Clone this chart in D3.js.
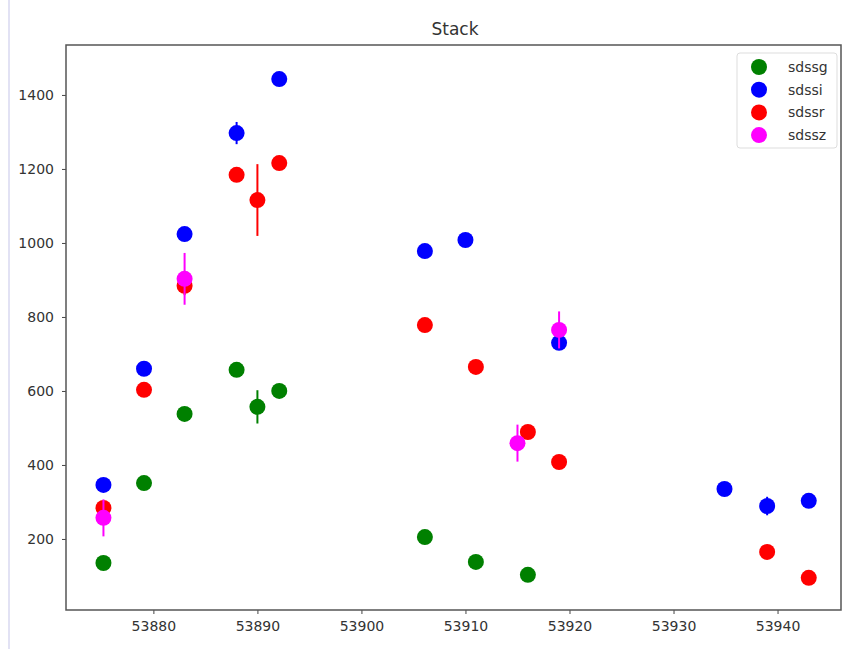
<!DOCTYPE html>
<html>
<head>
<meta charset="utf-8">
<script src="https://cdn.jsdelivr.net/npm/d3@7"></script>
<style>
html,body{margin:0;padding:0;background:#fff;}
svg{display:block;font-family:"DejaVu Sans",sans-serif;}
</style>
</head>
<body>
<svg id="chart" width="854" height="649"></svg>
<script>
const seriesNames = ["sdssg","sdssi","sdssr","sdssz"];
const seriesColors = ["#008000","#0000ff","#ff0000","#ff00ff"];

const sdssgMjd  = [53875.2, 53879.1, 53883.0, 53888.0, 53890.0, 53892.1, 53906.1, 53911.0, 53916.0];
const sdssgFlux = [135, 351, 538, 657, 557, 600, 205, 138, 103];
const sdssgErr  = [5, 5, 5, 5, 45, 5, 5, 5, 5];

const sdssiMjd  = [53875.2, 53879.1, 53883.0, 53888.0, 53892.1, 53906.1, 53910.0, 53919.0, 53934.9, 53939.0, 53943.0];
const sdssiFlux = [346, 660, 1024, 1297, 1443, 978, 1008, 730, 335, 289, 303];
const sdssiErr  = [15, 18, 5, 30, 5, 5, 15, 5, 5, 25, 5];

const sdssrMjd  = [53875.2, 53879.1, 53883.0, 53888.0, 53890.0, 53892.1, 53906.1, 53911.0, 53916.0, 53919.0, 53939.0, 53943.0];
const sdssrFlux = [284, 603, 884, 1184, 1116, 1216, 778, 665, 489, 408, 165, 95];
const sdssrErr  = [10, 5, 25, 5, 97, 5, 5, 5, 5, 5, 5, 5];

const sdsszMjd  = [53875.2, 53883.0, 53915.0, 53919.0];
const sdsszFlux = [257, 903, 459, 765];
const sdsszErr  = [50, 70, 50, 50];

const xTicks = [53880, 53890, 53900, 53910, 53920, 53930, 53940];
const yTicks = [200, 400, 600, 800, 1000, 1200, 1400];
const titleText = "Stack";

const series = [
  {name: seriesNames[0], color: seriesColors[0], x: sdssgMjd, y: sdssgFlux, e: sdssgErr},
  {name: seriesNames[1], color: seriesColors[1], x: sdssiMjd, y: sdssiFlux, e: sdssiErr},
  {name: seriesNames[2], color: seriesColors[2], x: sdssrMjd, y: sdssrFlux, e: sdssrErr},
  {name: seriesNames[3], color: seriesColors[3], x: sdsszMjd, y: sdsszFlux, e: sdsszErr}
];

const svg = d3.select("#chart");
const L = 66, R = 841, T = 45, B = 610;

// faint page border line at left
svg.append("line").attr("x1",9).attr("x2",9).attr("y1",0).attr("y2",649)
  .attr("stroke","#e2e2f4").attr("stroke-width",2);

const x = d3.scaleLinear().domain([53871.6, 53946.1]).range([L, R]);
const y = d3.scaleLinear().domain([8, 1535]).range([B, T]);

const xAxis = svg.append("g").attr("transform", `translate(0,${B})`)
  .call(d3.axisBottom(x).tickValues(xTicks).tickFormat(d3.format("d")).tickSize(4).tickPadding(7));
const yAxis = svg.append("g").attr("transform", `translate(${L},0)`)
  .call(d3.axisLeft(y).tickValues(yTicks).tickFormat(d3.format("d")).tickSize(4).tickPadding(8));
[xAxis, yAxis].forEach(g => {
  g.select(".domain").remove();
  g.selectAll("line").attr("stroke","#444");
  g.selectAll("text").attr("fill","#333").style("font-size","14px").style("font-family","DejaVu Sans, sans-serif");
});

svg.append("rect").attr("x",L).attr("y",T).attr("width",R-L).attr("height",B-T)
  .attr("fill","none").attr("stroke","#555").attr("stroke-width",1.5);

svg.append("text").attr("x",455).attr("y",35).attr("text-anchor","middle")
  .attr("fill","#333").style("font-size","17px").text(titleText);

const plot = svg.append("g");
series.forEach(s => {
  const g = plot.append("g");
  const pts = s.x.map((v,i) => ({x: v, y: s.y[i], e: s.e[i]}));
  g.selectAll("line.err").data(pts).enter().append("line")
    .attr("x1", d => x(d.x)).attr("x2", d => x(d.x))
    .attr("y1", d => y(d.y - d.e)).attr("y2", d => y(d.y + d.e))
    .attr("stroke", s.color).attr("stroke-width", 2);
  g.selectAll("circle").data(pts).enter().append("circle")
    .attr("cx", d => x(d.x)).attr("cy", d => y(d.y)).attr("r", 8)
    .attr("fill", s.color);
});

// legend
const lg = svg.append("g");
lg.append("rect").attr("x",737).attr("y",53).attr("width",100).attr("height",95)
  .attr("rx",3).attr("fill","#fff").attr("stroke","#ddd");
series.forEach((s,i) => {
  const cy = 67 + i*22.7;
  lg.append("circle").attr("cx",759).attr("cy",cy).attr("r",8).attr("fill",s.color);
  lg.append("text").attr("x",788).attr("y",cy+5).attr("fill","#333")
    .style("font-size","14px").text(s.name);
});
</script>
</body>
</html>
